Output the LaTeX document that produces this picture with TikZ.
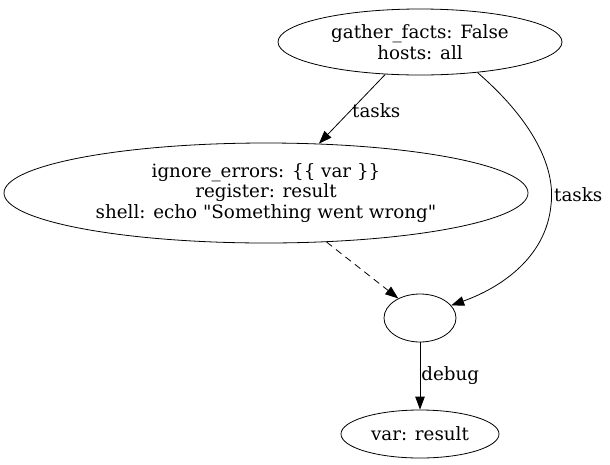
\documentclass[tikz,border=0pt]{standalone}
\usepackage{fontspec}
\setmainfont{DejaVu Serif}[Ligatures=TeXOff]
\usetikzlibrary{shapes.geometric,arrows.meta}
\begin{document}
\begin{tikzpicture}[x=1pt,y=-1pt,
  every node/.style={font=\fontsize{18.3}{20.5}\selectfont},
  oval/.style={draw, ellipse, inner sep=0pt, align=center, line width=0.8pt},
  edge/.style={draw, line width=0.8pt, -{Triangle[length=13pt,width=9.5pt]}},
  lbl/.style={inner sep=1pt}]
\useasboundingbox (0,0) rectangle (610,464);
\node[oval, minimum width=284pt, minimum height=66pt] (top) at (420,42) {gather\_facts: False\\hosts: all};
\node[oval, minimum width=524pt, minimum height=100pt] (mid) at (266,193) {ignore\_errors: \{\{ var \}\}\\register: result\\shell: echo "Something went wrong"};
\node[oval, minimum width=72pt, minimum height=48pt] (small) at (420,318) {};
\node[oval, minimum width=158pt, minimum height=48pt] (bot) at (420,434) {var: result};
\draw[edge] (top.223) -- node[lbl, anchor=west, pos=0.52] (l1) {tasks} (mid.43);
\draw[edge] (top.332) .. controls (530,118) and (556,165) .. (551,205)
  .. controls (546,258) and (500,288) .. (small.22);
\node[lbl, anchor=west] (l2) at (553,195) {tasks};
\draw[edge, dashed, dash pattern=on 7pt off 5pt] (mid.321) -- (small.138);
\draw[edge] (small.south) -- node[lbl, anchor=west, pos=0.5] (l3) {debug} (bot.north);
\end{tikzpicture}
\end{document}
